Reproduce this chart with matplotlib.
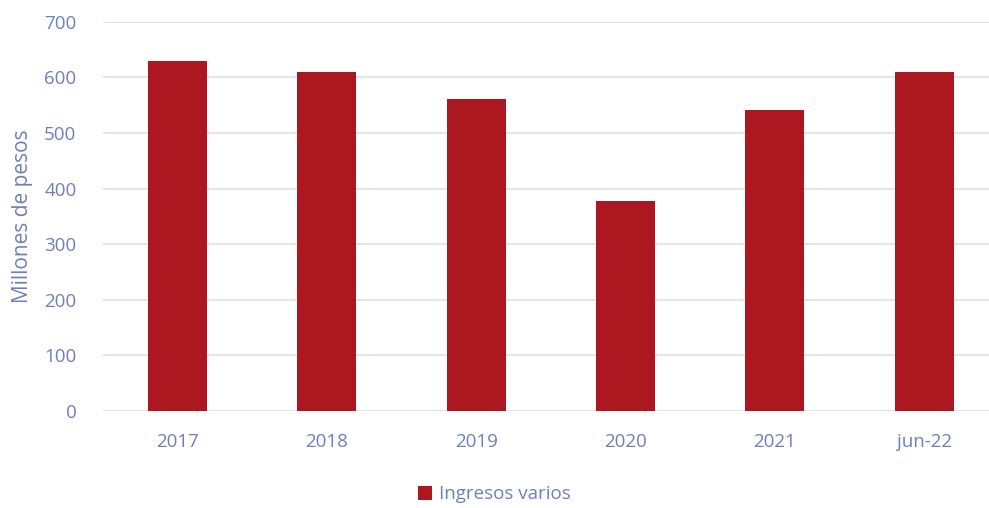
import matplotlib
matplotlib.use("Agg")
import matplotlib.pyplot as plt
import numpy as np

categories = ["2017", "2018", "2019", "2020", "2021", "jun-22"]
values = [630, 610, 561, 378, 542, 610]
series_name = "Ingresos varios"
y_ticks = [0, 100, 200, 300, 400, 500, 600, 700]

bar_color = "#AD1820"
text_color = "#6F7FBA"
grid_color = "#DFE1F2"

plt.rcParams['font.family'] = ['Open Sans', 'DejaVu Sans']

fig = plt.figure(figsize=(9.89, 5.08), dpi=100)
ax = fig.add_axes([0.104, 0.191, 0.906, 0.766])

x = np.arange(len(categories))
ax.bar(x, values, width=0.395, color=bar_color, label=series_name, zorder=3)

ax.set_xlim(-0.5, len(categories) - 0.5)
ax.set_ylim(0, 700)
ax.set_yticks(y_ticks)
ax.set_xticks(x)
ax.set_xticklabels(categories)
ax.grid(axis='y', color=grid_color, linewidth=1.3, zorder=0)
for s in ax.spines.values():
    s.set_visible(False)
ax.tick_params(axis='both', length=0, colors=text_color, labelsize=13.5)
ax.tick_params(axis='y', pad=19)
ax.tick_params(axis='x', pad=16)
ax.set_ylabel("Millones de pesos", color=text_color, fontsize=15, labelpad=8)

fig.legend(loc='center', bbox_to_anchor=(0.5, 0.027), frameon=False,
           fontsize=13.5, labelcolor=text_color, handlelength=0.75, handleheight=0.75,
           handletextpad=0.4)

fig.savefig("out.png", dpi=100)
